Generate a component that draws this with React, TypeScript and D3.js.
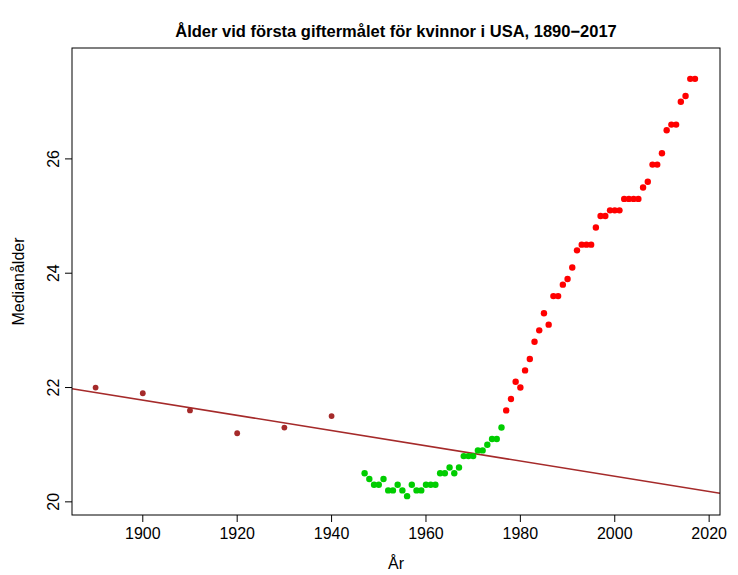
import * as d3 from 'd3'

const earlyYears = [1890, 1900, 1910, 1920, 1930, 1940]
const earlyAges = [22.0, 21.9, 21.6, 21.2, 21.3, 21.5]
const greenStart = 1947
const greenAges = [20.5, 20.4, 20.3, 20.3, 20.4, 20.2, 20.2, 20.3, 20.2, 20.1, 20.3, 20.2, 20.2, 20.3, 20.3, 20.3, 20.5, 20.5, 20.6, 20.5, 20.6, 20.8, 20.8, 20.8, 20.9, 20.9, 21.0, 21.1, 21.1, 21.3]
const redStart = 1977
const redAges = [21.6, 21.8, 22.1, 22.0, 22.3, 22.5, 22.8, 23.0, 23.3, 23.1, 23.6, 23.6, 23.8, 23.9, 24.1, 24.4, 24.5, 24.5, 24.5, 24.8, 25.0, 25.0, 25.1, 25.1, 25.1, 25.3, 25.3, 25.3, 25.3, 25.5, 25.6, 25.9, 25.9, 26.1, 26.5, 26.6, 26.6, 27.0, 27.1, 27.4, 27.4]
const trendLine: [number, number][] = [[1885, 21.98], [2022.3, 20.15]]
const xTicks = [1900, 1920, 1940, 1960, 1980, 2000, 2020]
const yTicks = [20, 22, 24, 26]

export default function App() {
  const W = 738, H = 575
  const L = 72, R = 720, T = 48, B = 515
  const x = d3.scaleLinear().domain([1885, 2022.3]).range([L, R])
  const y = d3.scaleLinear().domain([19.77, 27.94]).range([B, T])
  const font = 'Liberation Sans, Arial, sans-serif'
  const pts = [
    ...earlyYears.map((yr, i) => ({ yr, v: earlyAges[i], c: '#A52A2A', r: 2.9 })),
    ...greenAges.map((v, i) => ({ yr: greenStart + i, v, c: '#00CD00', r: 3.2 })),
    ...redAges.map((v, i) => ({ yr: redStart + i, v, c: '#FF0000', r: 3.2 })),
  ]
  const line = d3.line<[number, number]>().x(d => x(d[0])).y(d => y(d[1]))
  return (
    <svg width={W} height={H} style={{ position: 'absolute', left: 0, top: 0 }} fontFamily={font}>
      <rect width={W} height={H} fill="#fff" />
      <text x={(L + R) / 2} y={37} textAnchor="middle" fontWeight="bold" fontSize={16.5}>Ålder vid första giftermålet för kvinnor i USA, 1890−2017</text>
      <defs><clipPath id="c"><rect x={L} y={T} width={R - L} height={B - T} /></clipPath></defs>
      <path d={line(trendLine) ?? ''} stroke="#A52A2A" strokeWidth={1.5} fill="none" clipPath="url(#c)" />
      {pts.map((p, i) => <circle key={i} cx={x(p.yr)} cy={y(p.v)} r={p.r} fill={p.c} />)}
      <rect x={L} y={T} width={R - L} height={B - T} fill="none" stroke="#000" />
      {xTicks.map(t => (
        <g key={t}>
          <line x1={x(t)} x2={x(t)} y1={B} y2={B + 7} stroke="#000" />
          <text x={x(t)} y={B + 24} textAnchor="middle" fontSize={16}>{t}</text>
        </g>
      ))}
      {yTicks.map(t => (
        <g key={t}>
          <line x1={L - 7} x2={L} y1={y(t)} y2={y(t)} stroke="#000" />
          <text transform={`translate(${L - 13},${y(t)}) rotate(-90)`} textAnchor="middle" fontSize={16}>{t}</text>
        </g>
      ))}
      <text x={(L + R) / 2} y={569} textAnchor="middle" fontSize={16}>År</text>
      <text transform={`translate(24,${(T + B) / 2}) rotate(-90)`} textAnchor="middle" fontSize={16}>Medianålder</text>
    </svg>
  )
}
